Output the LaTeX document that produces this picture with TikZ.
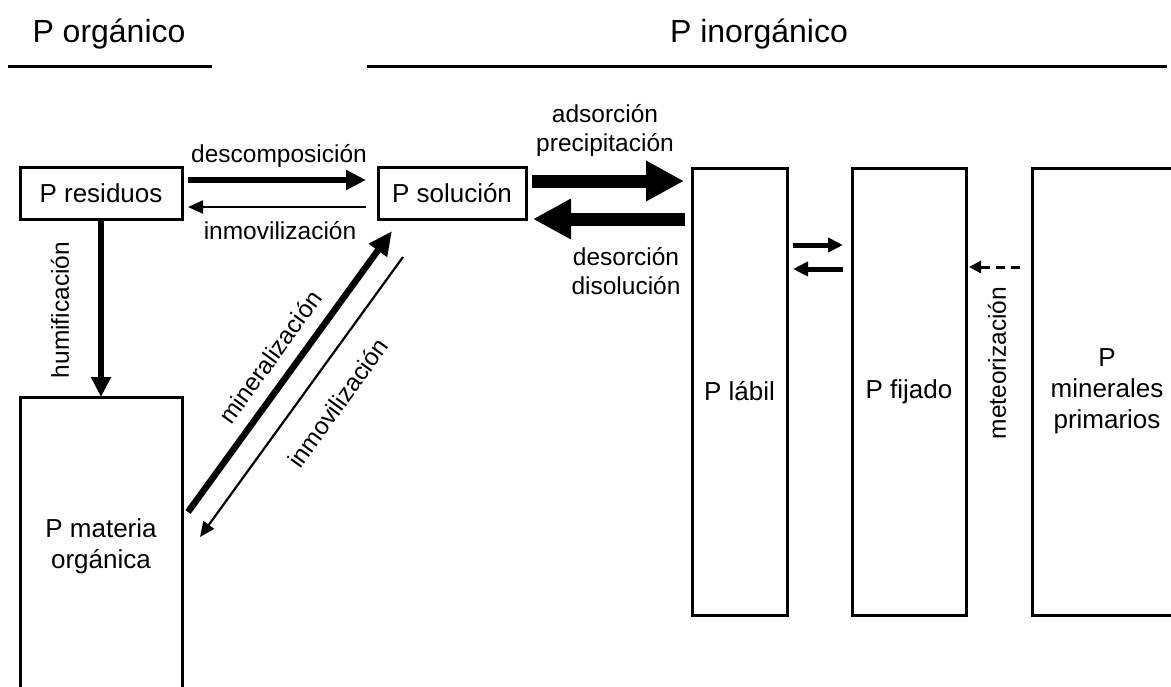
\documentclass[tikz,border=0pt]{standalone}
\usepackage{fontspec}
\setmainfont{Liberation Sans}
\usetikzlibrary{arrows.meta, positioning, calc}

\begin{document}
\begin{tikzpicture}[
      x=1pt, y=-1pt,
      box/.style={rectangle, draw, line width=3pt, outer sep=0pt, inner sep=2pt, align=center, font=\fontsize{26}{31}\selectfont},
      lbl/.style={align=center, inner sep=0pt, font=\fontsize{24.5}{29}\selectfont},
      hdr/.style={anchor=base, font=\fontsize{32}{38}\selectfont},
      rule/.style={line width=3pt},
      strong/.style={-{Triangle[length=20pt, width=19pt]}, line width=6pt},
      heavy/.style={-{Triangle[length=24pt, width=21pt]}, line width=6.5pt},
      weak/.style={-{Triangle[length=15pt, width=13pt]}, line width=2.2pt},
      fat/.style={-{Triangle[length=38pt, width=38pt]}, line width=13pt},
      mid/.style={-{Triangle[length=15pt, width=14pt]}, line width=5pt},
      dashflow/.style={-{Triangle[length=12pt, width=12pt]}, line width=3pt, dash pattern=on 9pt off 6pt}
    ]
    \path[use as bounding box, clip] (0,0) rectangle (1171,686);

    % headers
    \node[hdr] (horg) at (109,42) {P orgánico};
    \node[hdr] (hinorg) at (759,42) {P inorgánico};
    \draw[rule] (8,66.5) -- (212,66.5);
    \draw[rule] (367,66.5) -- (1167,66.5);

    % pools
    \node[box, minimum width=162pt, minimum height=52pt] (res) at (101,193) {P residuos};
    \node[box, minimum width=148pt, minimum height=52pt, right=196pt of res] (sol) {P solución};
    \node[box, minimum width=162pt, minimum height=298pt, below=178pt of res] (mo) {P materia\\orgánica};
    \node[box, minimum width=95pt, minimum height=447pt] (lab) at (739.5,391.5) {P lábil};
    \node[box, minimum width=114pt, minimum height=447pt, right=65pt of lab] (fij) {P fijado};
    \node[box, minimum width=150pt, minimum height=447pt, right=66pt of fij] (pmin) {P\\minerales\\primarios};

    % flows
    \draw[strong, shorten <=6pt, shorten >=12pt] ([yshift=13pt]res.east) -- ([yshift=13pt]sol.west);
    \draw[weak, shorten <=12pt, shorten >=6pt] ([yshift=-14pt]sol.west) -- ([yshift=-14pt]res.east);
    \draw[strong] (res.south) -- (mo.north);
    \draw[heavy] ($(mo.north east)+(6,115)$) -- ($(sol.south west)+(14,12)$);
    \draw[weak] ($(sol.south west)+(25,38)$) -- ($(mo.north east)+(18,140)$);
    \draw[fat, shorten <=6pt, shorten >=8pt] ([yshift=12pt]sol.east) -- ([yshift=12pt]sol.east -| lab.west);
    \draw[fat, shorten <=7pt, shorten >=7pt] ([yshift=-26pt]sol.east -| lab.west) -- ([yshift=-26pt]sol.east);
    \draw[mid, shorten <=6pt, shorten >=9pt] ([yshift=146.5pt]lab.east) -- ([yshift=146.5pt]fij.west);
    \draw[mid, shorten <=9pt, shorten >=6pt] ([yshift=122.5pt]fij.west) -- ([yshift=122.5pt]lab.east);
    \draw[dashflow, shorten <=12pt, shorten >=3pt] ([yshift=124.5pt]pmin.west) -- ([yshift=124.5pt]fij.east);

    % labels
    \node[lbl] (ldesc) at (279,156) {descomposición};
    \node[lbl] (linm) at (280,231) {inmovilización};
    \node[lbl, rotate=90] (lhum) at (60,310) {humificación};
    \node[lbl, rotate=54] (lmin) at (270,357) {mineralización};
    \node[lbl, rotate=54] (linmd) at (338,403) {inmovilización};
    \node[lbl] (lads) at (605,131) {adsorción\\precipitación};
    \node[lbl] (ldes) at (626,271) {desorción\\disolución};
    \node[lbl, rotate=90] (lmet) at (997,363) {meteorización};
  \end{tikzpicture}
\end{document}
